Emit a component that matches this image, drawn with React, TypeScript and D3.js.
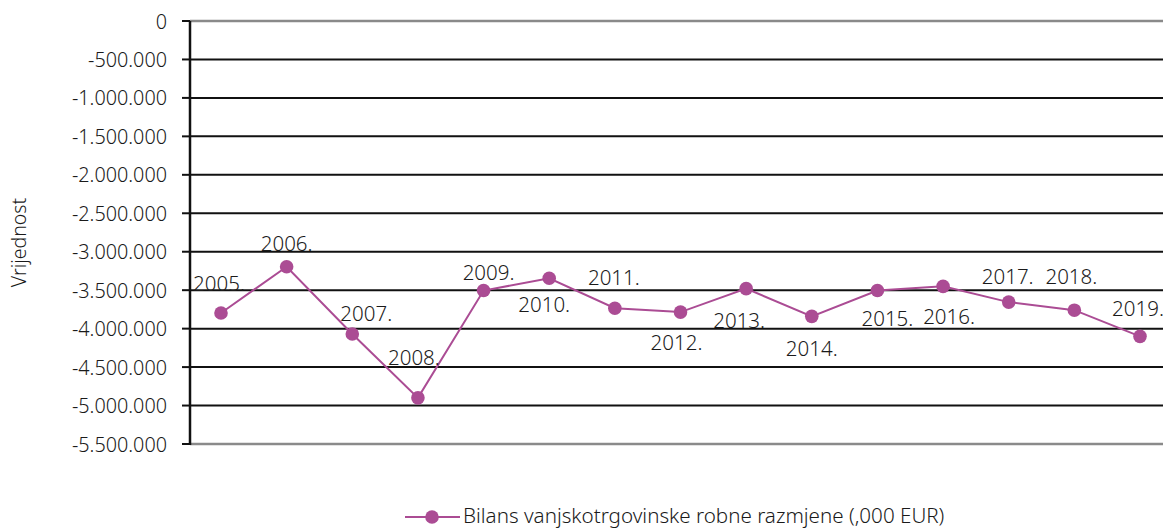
import React from "react";
import * as d3 from "d3";

const years = ["2005.", "2006.", "2007.", "2008.", "2009.", "2010.", "2011.", "2012.", "2013.", "2014.", "2015.", "2016.", "2017.", "2018.", "2019."];
// Bilans vanjskotrgovinske robne razmjene (,000 EUR)
const balance = [-3797000, -3195000, -4070000, -4900000, -3505000, -3345000, -3735000, -3785000, -3480000, -3840000, -3505000, -3450000, -3655000, -3760000, -4100000];
const yTicks = [0, -500000, -1000000, -1500000, -2000000, -2500000, -3000000, -3500000, -4000000, -4500000, -5000000, -5500000];
const seriesName = "Bilans vanjskotrgovinske robne razmjene (,000 EUR)";
const axisTitle = "Vrijednost";

// label nudges (dx, dy) relative to each point, as placed in the original
const labelNudge: [number, number][] = [
  [-2, -30], [0, -24], [14, -21], [-4, -41], [5, -19], [-5, 26], [-1, -31], [-4, 30],
  [-7, 31], [0, 32], [10, 27], [6, 30], [-1, -26], [-3, -34], [-2, -28],
];

const W = 1166;
const H = 529;
const left = 190;
const right = 1163;
const top = 21;
const bottom = 444;
const font = "'Noto Sans', sans-serif";
const purple = "#AB4C94";
const weight = 300;
const ink = "#1a1a1a";

const fmt = (v: number) => {
  if (v === 0) return "0";
  const s = d3.format(",")(Math.abs(v)).replace(/,/g, ".");
  return "-" + s;
};

export default function App() {
  const x = d3.scalePoint<string>().domain(years).range([221, 1140]);
  const y = d3.scaleLinear().domain([-5500000, 0]).range([bottom, top]);
  const line = d3
    .line<number>()
    .x((_, i) => x(years[i]) as number)
    .y((d) => y(d));

  return (
    <svg width={W} height={H} style={{ position: "absolute", left: 0, top: 0, background: "#fff" }} fontFamily={font} fontWeight={weight}>
      {yTicks.map((t) => {
        const yy = y(t);
        const edge = t === 0 || t === -5500000;
        return (
          <g key={t}>
            <line x1={left} x2={right} y1={yy} y2={yy} stroke={edge ? "#8a8a8a" : "#111"} strokeWidth={edge ? 2.5 : 2} />
            <line x1={182} x2={left} y1={yy} y2={yy} stroke="#111" strokeWidth={2} />
            <text x={167} y={yy} textAnchor="end" dominantBaseline="central" fontSize={19.8} fill={ink}>
              {fmt(t)}
            </text>
          </g>
        );
      })}
      <line x1={left} x2={left} y1={top} y2={bottom + 1} stroke="#111" strokeWidth={2.5} />
      <text
        transform={`translate(18, ${(top + bottom) / 2 + 10}) rotate(-90)`}
        textAnchor="middle"
        dominantBaseline="central"
        fontSize={19.5}
        fill={ink}
      >
        {axisTitle}
      </text>

      <path d={line(balance) || ""} fill="none" stroke={purple} strokeWidth={2} />
      {balance.map((v, i) => (
        <circle key={years[i]} cx={x(years[i])} cy={y(v)} r={6.8} fill={purple} />
      ))}
      {balance.map((v, i) => (
        <text
          key={"l" + years[i]}
          x={(x(years[i]) as number) + labelNudge[i][0]}
          y={y(v) + labelNudge[i][1]}
          textAnchor="middle"
          dominantBaseline="central"
          fontSize={20.5}
          fill={ink}
        >
          {years[i]}
        </text>
      ))}

      <g transform="translate(405, 517)">
        <line x1={0} x2={55} y1={0} y2={0} stroke={purple} strokeWidth={2} />
        <circle cx={27} cy={0} r={6.8} fill={purple} />
        <text x={58} y={-2} dominantBaseline="central" fontSize={20.6} fill={ink}>
          {seriesName}
        </text>
      </g>
    </svg>
  );
}
